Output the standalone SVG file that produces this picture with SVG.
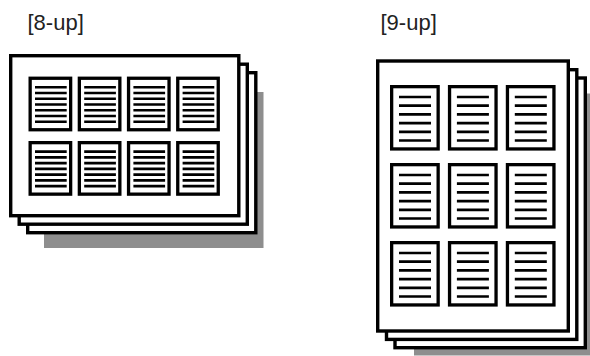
<svg xmlns="http://www.w3.org/2000/svg" width="590" height="356" viewBox="0 0 590 356">
<style>
.lbl{font-family:"Liberation Sans",Arial,sans-serif;font-size:22px;fill:#222}
.sheet{fill:#fff;stroke:#000;stroke-width:3.4}
.shadow{fill:#8e8e8e}
.pg{fill:#fff;stroke:#000;stroke-width:3.3}
.ln8{stroke:#000;stroke-width:2.6}
.ln9{stroke:#000;stroke-width:2.7}
</style>
<defs>
<g id="page8">
<rect class="pg" x="1.65" y="1.65" width="40.5" height="51.5"/>
<path class="ln8" d="M6.5 10.6H38.2M6.5 16.35H38.2M6.5 22.1H38.2M6.5 27.85H38.2M6.5 33.6H38.2M6.5 39.35H38.2M6.5 45.1H38.2"/>
</g>
<g id="page9">
<rect class="pg" x="1.65" y="1.65" width="46.5" height="62.3"/>
<path class="ln9" d="M9 12H41M9 20.7H41M9 29.4H41M9 38.1H41M9 46.8H41M9 55.5H41"/>
</g>
</defs>
<text class="lbl" x="27.5" y="30">[8-up]</text>
<text class="lbl" x="380.5" y="30">[9-up]</text>
<g id="stack8">
<rect class="shadow" x="44" y="92" width="219.5" height="156"/>
<rect class="sheet" x="27.7" y="72.7" width="228.1" height="160"/>
<rect class="sheet" x="19.2" y="64.2" width="228.1" height="160"/>
<rect class="sheet" x="10.7" y="55.7" width="228.1" height="160"/>
</g>
<g id="pages8">
<use href="#page8" x="28.5" y="76.6"/>
<use href="#page8" x="77.7" y="76.6"/>
<use href="#page8" x="126.9" y="76.6"/>
<use href="#page8" x="176.1" y="76.6"/>
<use href="#page8" x="28.5" y="141"/>
<use href="#page8" x="77.7" y="141"/>
<use href="#page8" x="126.9" y="141"/>
<use href="#page8" x="176.1" y="141"/>
</g>
<g id="stack9">
<rect class="shadow" x="414" y="93.5" width="180" height="262"/>
<rect class="sheet" x="395" y="78" width="190.3" height="269.7"/>
<rect class="sheet" x="386.5" y="69.7" width="190.3" height="269.7"/>
<rect class="sheet" x="377.7" y="61" width="190.6" height="270"/>
</g>
<g id="pages9">
<use href="#page9" x="390" y="85"/>
<use href="#page9" x="447.9" y="85"/>
<use href="#page9" x="505.8" y="85"/>
<use href="#page9" x="390" y="163"/>
<use href="#page9" x="447.9" y="163"/>
<use href="#page9" x="505.8" y="163"/>
<use href="#page9" x="390" y="241"/>
<use href="#page9" x="447.9" y="241"/>
<use href="#page9" x="505.8" y="241"/>
</g>
</svg>
